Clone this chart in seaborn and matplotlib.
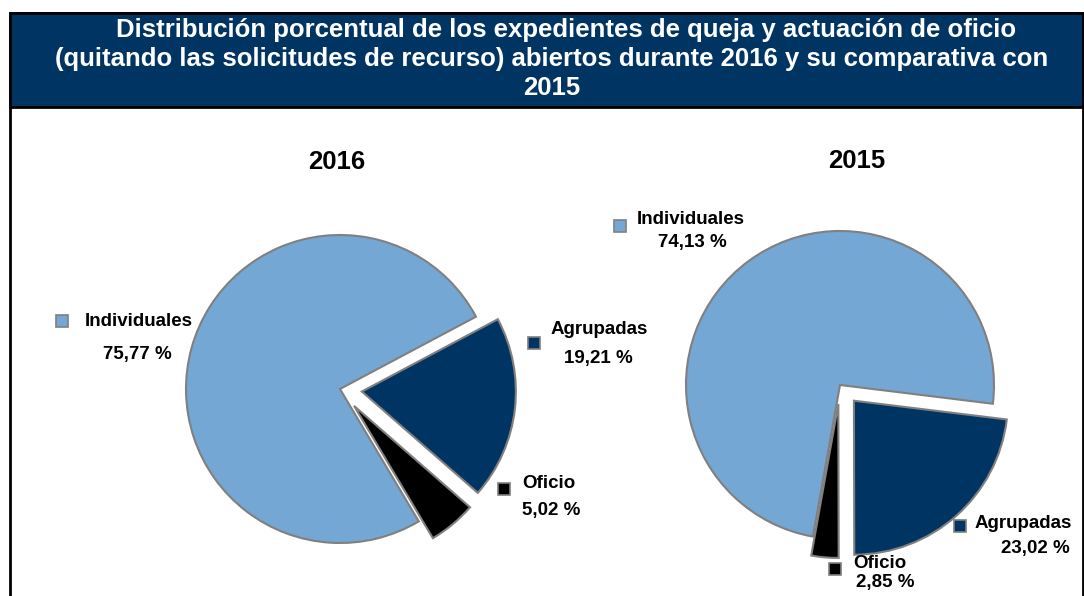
import matplotlib.pyplot as plt
import seaborn as sns
from matplotlib.patches import Rectangle

sns.set_theme(style="white")
plt.rcParams['font.family'] = ['Liberation Sans', 'DejaVu Sans']

# datos
categorias = ["Individuales", "Oficio", "Agrupadas"]
valores_2016 = [75.77, 5.02, 19.21]
valores_2015 = [74.13, 2.85, 23.02]
etiquetas_2016 = ["75,77 %", "5,02 %", "19,21 %"]
etiquetas_2015 = ["74,13 %", "2,85 %", "23,02 %"]
colores = ["#74a7d3", "#000000", "#003462"]
titulo = ["Distribución porcentual de los expedientes de queja y actuación de oficio",
          "(quitando las solicitudes de recurso) abiertos durante 2016 y su comparativa con",
          "2015"]

W, H = 1084, 596
fig = plt.figure(figsize=(W / 100, H / 100), dpi=100)
ax = fig.add_axes([0, 0, 1, 1])

def Y(y):
    # pixel y (desde arriba) -> coordenada de datos
    return H - y

navy = "#003462"

# marco y banda de titulo
ax.add_patch(Rectangle((10, Y(640)), 1073, 627, fill=False, edgecolor="black", lw=2, clip_on=False))
ax.add_patch(Rectangle((10, Y(107)), 1073, 94, facecolor=navy, edgecolor="black", lw=2))
for linea, (tx, ty) in zip(titulo, [(566, 30), (552, 59), (552, 88)]):
    ax.text(tx, Y(ty), linea, ha="center", va="center", color="white",
            fontsize=18.5, fontweight="bold")

wp = dict(edgecolor="#808080", linewidth=1.5)

# 2016
ax.pie(valores_2016, colors=colores, startangle=28, counterclock=True,
       center=(340, Y(389)), radius=154, explode=[0, 22, 22],
       wedgeprops=wp, frame=True)
# 2015
ax.pie(valores_2015, colors=colores, startangle=-7, counterclock=True,
       center=(840, Y(385)), radius=154, explode=[0, 19, 21],
       wedgeprops=wp, frame=True)

ax.text(337, Y(162), "2016", ha="center", va="center", fontsize=18.5, fontweight="bold", color="black")
ax.text(857, Y(161), "2015", ha="center", va="center", fontsize=18.5, fontweight="bold", color="black")

# posiciones de las etiquetas: (marcador, nombre, valor)
pos_2016 = [((62, 321), (85, 321), (137, 355)),
            ((504, 489), (522, 484), (551, 510)),
            ((534, 343), (551, 330), (598, 358))]
pos_2015 = [((620, 226), (637, 219), (692, 242)),
            ((835, 569), (853, 563), (885, 582)),
            ((960, 526), (975, 523), (1035, 548))]

for pos, etiquetas in [(pos_2016, etiquetas_2016), (pos_2015, etiquetas_2015)]:
    for cat, col, et, (m, n, v) in zip(categorias, colores, etiquetas, pos):
        ax.plot(m[0], Y(m[1]), marker="s", ms=8, mfc=col, mec="#7f7f7f", mew=1.2)
        ax.text(n[0], Y(n[1]), cat, ha="left", va="center", fontsize=13.5, fontweight="bold", color="black")
        ax.text(v[0], Y(v[1]), et, ha="center", va="center", fontsize=13.5, fontweight="bold", color="black")

ax.set_xlim(0, W)
ax.set_ylim(0, H)
ax.set_aspect("auto")
ax.axis("off")

fig.savefig("out.png", dpi=100, facecolor="white")
